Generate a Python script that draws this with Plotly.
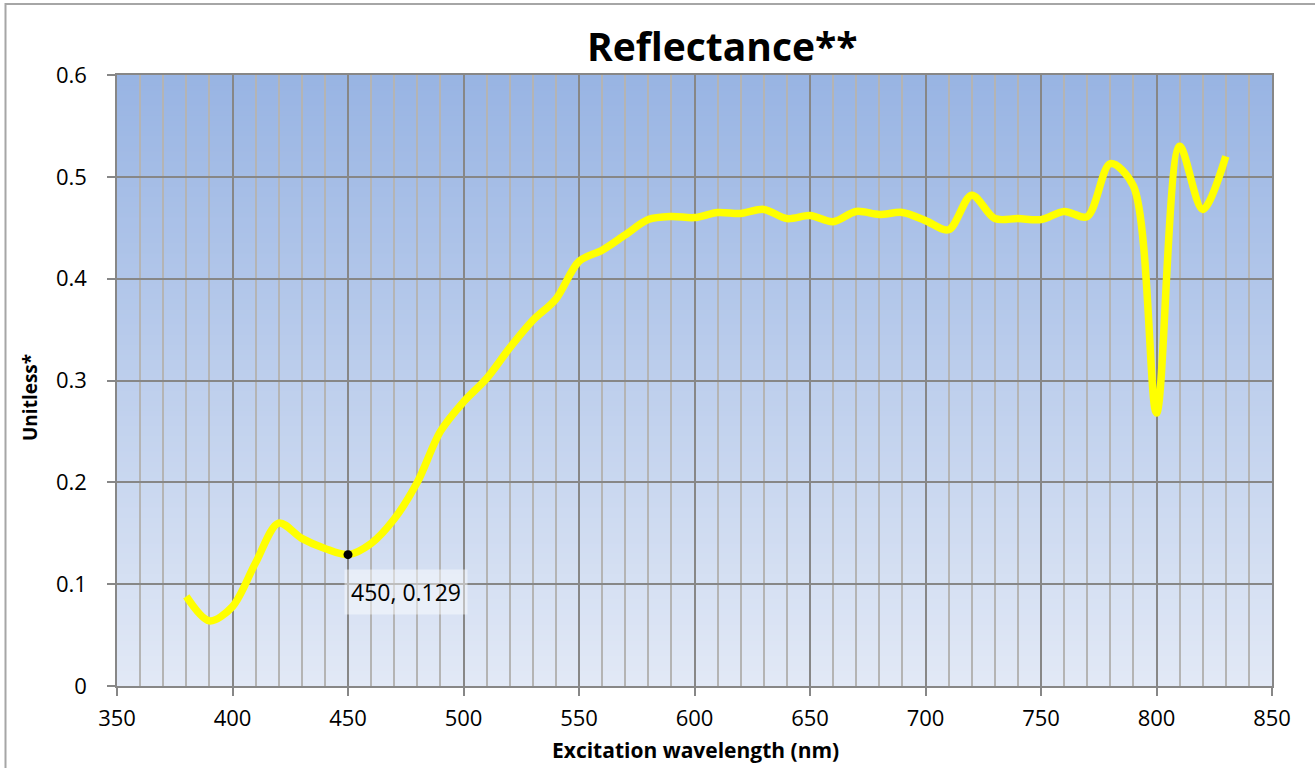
import plotly.graph_objects as go

# Reflectance spectrum, sampled every 10 nm
wavelength = [380, 390, 400, 410, 420, 430, 440, 450, 460, 470, 480, 490, 500, 510, 520,
              530, 540, 550, 560, 570, 580, 590, 600, 610, 620, 630, 640, 650, 660, 670,
              680, 690, 700, 710, 720, 730, 740, 750, 760, 770, 780, 790, 800, 810, 820, 830]
reflectance = [0.088, 0.064, 0.078, 0.121, 0.160, 0.145, 0.135, 0.129, 0.140, 0.164, 0.200,
               0.250, 0.279, 0.302, 0.332, 0.359, 0.380, 0.417, 0.428, 0.443, 0.458, 0.461,
               0.460, 0.465, 0.464, 0.468, 0.459, 0.462, 0.456, 0.466, 0.463, 0.465, 0.457,
               0.448, 0.482, 0.459, 0.459, 0.458, 0.466, 0.461, 0.513, 0.491, 0.268, 0.530,
               0.468, 0.520]

# Point called out with a data label
label_index = wavelength.index(450)

x_ticks = [350, 400, 450, 500, 550, 600, 650, 700, 750, 800, 850]
y_ticks = [0, 0.1, 0.2, 0.3, 0.4, 0.5, 0.6]

FONT = "Open Sans"
W, H = 1315, 768
ML, MR, MT, MB = 117, 43, 75, 82
PW, PH = W - ML - MR, H - MT - MB


def px_to_paper_x(px):
    return (px - ML) / PW


def px_to_paper_y(py):
    return (H - MB - py) / PH


fig = go.Figure()

fig.add_trace(go.Scatter(
    x=wavelength, y=reflectance, mode="lines",
    line=dict(color="#FFFF00", width=7.5, shape="spline", smoothing=0.9),
    hoverinfo="x+y", showlegend=False,
))

fig.add_trace(go.Scatter(
    x=[wavelength[label_index]], y=[reflectance[label_index]], mode="markers",
    marker=dict(color="black", size=9),
    hoverinfo="skip", showlegend=False,
))

# Vertical gradient fill of the plot area, drawn under the gridlines
top_rgb = (152, 180, 227)
bot_rgb = (226, 233, 246)
n_strips = 120
shapes = []
for i in range(n_strips):
    t0 = i / n_strips
    t1 = min(1.0, (i + 1.6) / n_strips)
    tm = (i + 0.5) / n_strips
    r = round(bot_rgb[0] + (top_rgb[0] - bot_rgb[0]) * tm)
    g = round(bot_rgb[1] + (top_rgb[1] - bot_rgb[1]) * tm)
    b = round(bot_rgb[2] + (top_rgb[2] - bot_rgb[2]) * tm)
    shapes.append(dict(
        type="rect", xref="paper", yref="paper", x0=0, x1=1, y0=t0, y1=t1,
        fillcolor=f"rgb({r},{g},{b})", line=dict(width=0), layer="below",
    ))

# Chart frame (left and top edges visible)
shapes.append(dict(
    type="rect", xref="paper", yref="paper",
    x0=px_to_paper_x(5.5), x1=px_to_paper_x(W + 20),
    y0=px_to_paper_y(H + 20), y1=px_to_paper_y(4),
    line=dict(color="#A6A6A6", width=2), fillcolor="rgba(0,0,0,0)", layer="above",
))

annotations = [
    dict(text="<b>Reflectance**</b>", xref="paper", yref="paper",
         x=px_to_paper_x(722), y=px_to_paper_y(46), xanchor="center", yanchor="middle",
         showarrow=False, font=dict(family=FONT, size=39, color="black")),
    dict(text="<b>Unitless*</b>", xref="paper", yref="paper",
         x=px_to_paper_x(30), y=px_to_paper_y(398), xanchor="center", yanchor="middle",
         textangle=-90, showarrow=False, font=dict(family=FONT, size=19, color="black")),
    dict(text="<b>Excitation wavelength (nm)</b>", xref="paper", yref="paper",
         x=px_to_paper_x(695), y=px_to_paper_y(750), xanchor="center", yanchor="middle",
         showarrow=False, font=dict(family=FONT, size=21, color="black")),
    dict(text=f"{wavelength[label_index]}, {reflectance[label_index]}",
         x=wavelength[label_index], y=reflectance[label_index],
         xanchor="left", yanchor="top", xshift=-4, yshift=-14,
         showarrow=False, bgcolor="rgba(255,255,255,0.45)", borderpad=6,
         font=dict(family=FONT, size=23, color="black")),
]

fig.update_layout(
    width=W, height=H,
    margin=dict(l=ML, r=MR, t=MT, b=MB, pad=0),
    paper_bgcolor="white",
    plot_bgcolor="rgba(0,0,0,0)",
    font=dict(family=FONT, size=22, color="black"),
    shapes=shapes,
    annotations=annotations,
    showlegend=False,
)

fig.update_xaxes(
    range=[350, 850], tickvals=x_ticks, ticktext=[str(v) for v in x_ticks],
    showgrid=True, gridcolor="#878787", gridwidth=1.5,
    minor=dict(dtick=10, tick0=350, showgrid=True, gridcolor="#B4B4B4", gridwidth=1.5, ticks=""),
    showline=True, linecolor="#878787", linewidth=1.5, mirror=True,
    ticks="outside", ticklen=8, tickcolor="#878787", tickwidth=1.5,
    ticklabelstandoff=4, zeroline=False,
    tickfont=dict(family=FONT, size=22, color="black"),
)
fig.update_yaxes(
    range=[0, 0.6], tickvals=y_ticks, ticktext=["0", "0.1", "0.2", "0.3", "0.4", "0.5", "0.6"],
    showgrid=True, gridcolor="#878787", gridwidth=1.5,
    showline=True, linecolor="#878787", linewidth=1.5, mirror=True,
    ticks="outside", ticklen=8, tickcolor="#878787", tickwidth=1.5,
    ticklabelstandoff=16, zeroline=False,
    tickfont=dict(family=FONT, size=22, color="black"),
)

fig.write_html("out.html")
